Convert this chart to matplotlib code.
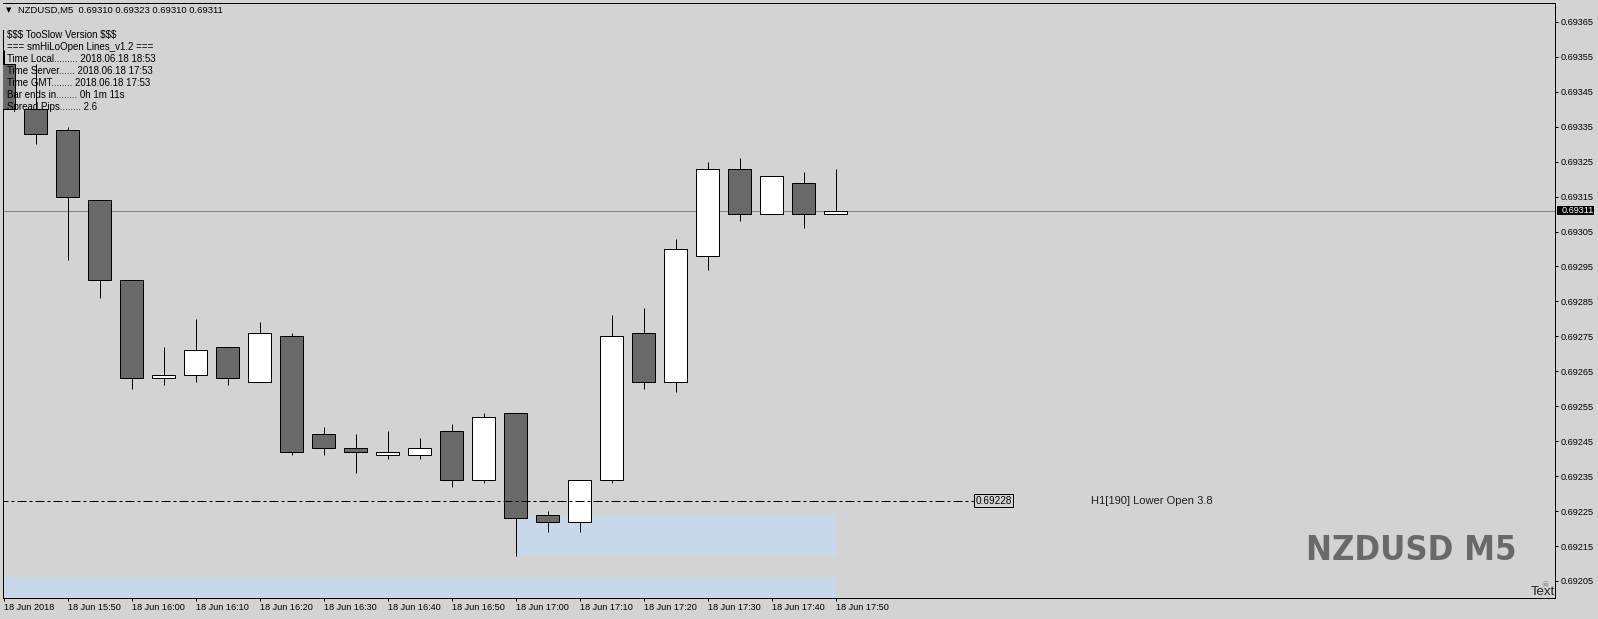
import matplotlib
matplotlib.use("Agg")
import matplotlib.pyplot as plt
from matplotlib import font_manager
from matplotlib.font_manager import FontProperties
from matplotlib.patches import Rectangle
from matplotlib.transforms import blended_transform_factory
import numpy as np

# ---------------- data ----------------
bar_times = ["15:40", "15:45", "15:50", "15:55", "16:00", "16:05", "16:10", "16:15", "16:20",
             "16:25", "16:30", "16:35", "16:40", "16:45", "16:50", "16:55", "17:00", "17:05",
             "17:10", "17:15", "17:20", "17:25", "17:30", "17:35", "17:40", "17:45", "17:50"]
opens = [0.69353, 0.69340, 0.69334, 0.69314, 0.69291, 0.69263, 0.69264, 0.69272, 0.69262,
         0.69275, 0.69247, 0.69243, 0.69241, 0.69241, 0.69248, 0.69234, 0.69253, 0.69224,
         0.69222, 0.69234, 0.69276, 0.69262, 0.69298, 0.69323, 0.69310, 0.69319, 0.69310]
highs = [0.69357, 0.69353, 0.69335, 0.69314, 0.69291, 0.69272, 0.69280, 0.69272, 0.69279,
         0.69276, 0.69249, 0.69247, 0.69248, 0.69246, 0.69250, 0.69253, 0.69253, 0.69225,
         0.69234, 0.69281, 0.69283, 0.69303, 0.69325, 0.69326, 0.69321, 0.69322, 0.69323]
lows = [0.69340, 0.69330, 0.69297, 0.69286, 0.69260, 0.69261, 0.69262, 0.69261, 0.69262,
        0.69241, 0.69241, 0.69236, 0.69240, 0.69240, 0.69232, 0.69233, 0.69212, 0.69219,
        0.69219, 0.69233, 0.69260, 0.69259, 0.69294, 0.69308, 0.69310, 0.69306, 0.69310]
closes = [0.69340, 0.69333, 0.69315, 0.69291, 0.69263, 0.69264, 0.69271, 0.69263, 0.69276,
          0.69242, 0.69243, 0.69242, 0.69242, 0.69243, 0.69234, 0.69252, 0.69223, 0.69222,
          0.69234, 0.69275, 0.69262, 0.69300, 0.69323, 0.69310, 0.69321, 0.69310, 0.69311]

x_tick_bars = [0, 2, 4, 6, 8, 10, 12, 14, 16, 18, 20, 22, 24, 26]
x_tick_labels = ["18 Jun 2018", "18 Jun 15:50", "18 Jun 16:00", "18 Jun 16:10", "18 Jun 16:20",
                 "18 Jun 16:30", "18 Jun 16:40", "18 Jun 16:50", "18 Jun 17:00", "18 Jun 17:10",
                 "18 Jun 17:20", "18 Jun 17:30", "18 Jun 17:40", "18 Jun 17:50"]
y_ticks = [0.69205, 0.69215, 0.69225, 0.69235, 0.69245, 0.69255, 0.69265, 0.69275, 0.69285,
           0.69295, 0.69305, 0.69315, 0.69325, 0.69335, 0.69345, 0.69355, 0.69365]

current_price = 0.69311
lower_open_price = 0.69228
lower_open_text = "H1[190] Lower Open 3.8"
zone_hi_start, zone_hi_end, zone_hi_low, zone_hi_high = 16, 26, 0.69212, 0.69224
zone_lo_start, zone_lo_end, zone_lo_low, zone_lo_high = -2, 26, 0.69190, 0.69206

header_text = "NZDUSD,M5  0.69310 0.69323 0.69310 0.69311"
info_lines = ["$$$ TooSlow Version $$$",
              "=== smHiLoOpen Lines_v1.2 ===",
              "Time Local......... 2018.06.18 18:53",
              "Time Server...... 2018.06.18 17:53",
              "Time GMT........ 2018.06.18 17:53",
              "Bar ends in........ 0h 1m 11s",
              "Spread Pips........ 2.6"]
watermark = "NZDUSD M5"

# ---------------- style / layout ----------------
W, H, DPI = 1598, 619, 100
PX = 72.0 / DPI
BG = "#D3D3D3"
BEAR = "#696969"
BULL = "#FFFFFF"
ZONE = "#C8D8EA"
PLINE = "#778899"

plt.rcParams["font.family"] = ["Liberation Sans", "DejaVu Sans"]
plt.rcParams["lines.scale_dashes"] = False

AX_L, AX_R, AX_T, AX_B = 2.7, 1555.0, 2.7, 598.0
XLIM = (-0.025, 48.484)
YLIM = (0.6920012, 0.6937050)

fig = plt.figure(figsize=(W / DPI, H / DPI), dpi=DPI, facecolor=BG)
ax = fig.add_axes([AX_L / W, 1 - AX_B / H, (AX_R - AX_L) / W, (AX_B - AX_T) / H])
ax.set_facecolor(BG)
ax.set_xlim(*XLIM)
ax.set_ylim(*YLIM)


def fy(py):
    return 1 - py / H


# zones
ax.add_patch(Rectangle((zone_hi_start, zone_hi_low), zone_hi_end - zone_hi_start,
                       zone_hi_high - zone_hi_low, fc=ZONE, ec="none", zorder=1))
ax.add_patch(Rectangle((zone_lo_start, zone_lo_low), zone_lo_end - zone_lo_start,
                       zone_lo_high - zone_lo_low, fc=ZONE, ec="none", zorder=1))

# current price line
ax.axhline(current_price, color=PLINE, lw=1 * PX, zorder=2)

# candles
xs = np.arange(len(opens))
body_w = 0.74
for x, o, h, l, c in zip(xs, opens, highs, lows, closes):
    ax.plot([x, x], [l, h], color="black", lw=1 * PX, zorder=3, solid_capstyle="butt")
    fc = BULL if c >= o else BEAR
    ax.add_patch(Rectangle((x - body_w / 2, min(o, c)), body_w, abs(c - o),
                           fc=fc, ec="black", lw=1 * PX, zorder=4))

# lower open dash-dot line + label
line_end_bar = 30.33
ax.plot([-1, line_end_bar], [lower_open_price, lower_open_price], color="black",
        lw=1 * PX, linestyle=(0, (9 * PX, 3 * PX, 3 * PX, 3 * PX)), zorder=5)
ax.text(line_end_bar + 0.05, lower_open_price, f"{lower_open_price:.5f}", ha="left",
        va="center", fontsize=7.2, color="black", zorder=6,
        bbox=dict(boxstyle="square,pad=0.12", fc="none", ec="black", lw=1 * PX))
ax.text(33.98, lower_open_price, lower_open_text, ha="left", va="center", fontsize=8,
        color="#202020", zorder=6)

# spines
for s in ["top", "right", "bottom", "left"]:
    ax.spines[s].set_linewidth(1 * PX)
    ax.spines[s].set_color("black")
ax.spines["left"].set_bounds(YLIM[0], 0.693627)

# ticks
ax.yaxis.tick_right()
ax.set_yticks(y_ticks)
ax.set_yticklabels([f"{v:.5f}" for v in y_ticks])
ax.tick_params(axis="y", direction="out", length=3 * PX, width=1 * PX, pad=2.6 * PX,
               labelsize=6.6, colors="black")
ax.set_xticks(x_tick_bars)
ax.set_xticklabels(x_tick_labels)
ax.tick_params(axis="x", direction="out", length=3 * PX, width=1 * PX, pad=1.3,
               labelsize=6.6, colors="black")
for lab in ax.get_xticklabels():
    lab.set_horizontalalignment("left")

# current price tag on the scale
trans = blended_transform_factory(ax.transAxes, ax.transData)
ax_w_px = AX_R - AX_L
price_per_px = (YLIM[1] - YLIM[0]) / (AX_B - AX_T)
tag_h = 9.5 * price_per_px
ax.add_patch(Rectangle((1 + 1.7 / ax_w_px, current_price - tag_h / 2), 37.3 / ax_w_px, tag_h,
                       transform=trans, fc="black", ec="black", lw=0, clip_on=False, zorder=7))
ax.text(1 + 6.5 / ax_w_px, current_price, f"{current_price:.5f}", transform=trans,
        ha="left", va="center", fontsize=6.6, color="white", clip_on=False, zorder=8)

# header and info texts
fig.text(6 / W, fy(10), "\u25BC", fontsize=5, family="DejaVu Sans", va="center", ha="left",
         color="black", zorder=10)
fig.text(18 / W, fy(10), header_text, fontsize=6.8, va="center", ha="left", color="black",
         zorder=10, parse_math=False)
for i, line in enumerate(info_lines):
    fig.text(7 / W, fy(35 + 12 * i), line, fontsize=7, va="center", ha="left",
             color="black", zorder=10, parse_math=False)


# watermark with a condensed bold font if available
def condensed_bold():
    prefs = [("Liberation Sans Narrow", None), ("DejaVu Sans", "condensed"),
             ("Roboto Condensed", None), ("Roboto", "condensed"), ("Open Sans Condensed", None),
             ("Open Sans", "condensed"), ("Noto Sans", "condensed")]
    fl = font_manager.fontManager.ttflist
    for name, stretch in prefs:
        for f in fl:
            w = f.weight if isinstance(f.weight, int) else (700 if f.weight == "bold" else 400)
            if f.name == name and w >= 700 and "italic" not in f.style.lower() and \
                    (stretch is None or "condensed" in str(f.stretch)):
                return FontProperties(fname=f.fname), True
    return FontProperties(family="Liberation Sans", weight="bold"), False


fp, is_condensed = condensed_bold()
fp.set_size(30)
wm = fig.text(1517 / W, fy(559.5), watermark, fontproperties=fp, color="#696969",
              ha="right", va="baseline", zorder=10)
fig.canvas.draw()
bb = wm.get_window_extent()
target_w = 210.0 if is_condensed else 222.0
fp.set_size(30 * target_w / bb.width)
wm.set_fontproperties(fp)

fig.text(1555 / W, fy(595), "Text", fontsize=9.5, color="#202020", ha="right",
         va="baseline", zorder=10)
fig.text(1545 / W, fy(587), "\u2620", fontsize=6, family="DejaVu Sans", color="#7a7a7a",
         ha="center", va="baseline", zorder=10)

fig.savefig("out.png", dpi=DPI, facecolor=BG)
